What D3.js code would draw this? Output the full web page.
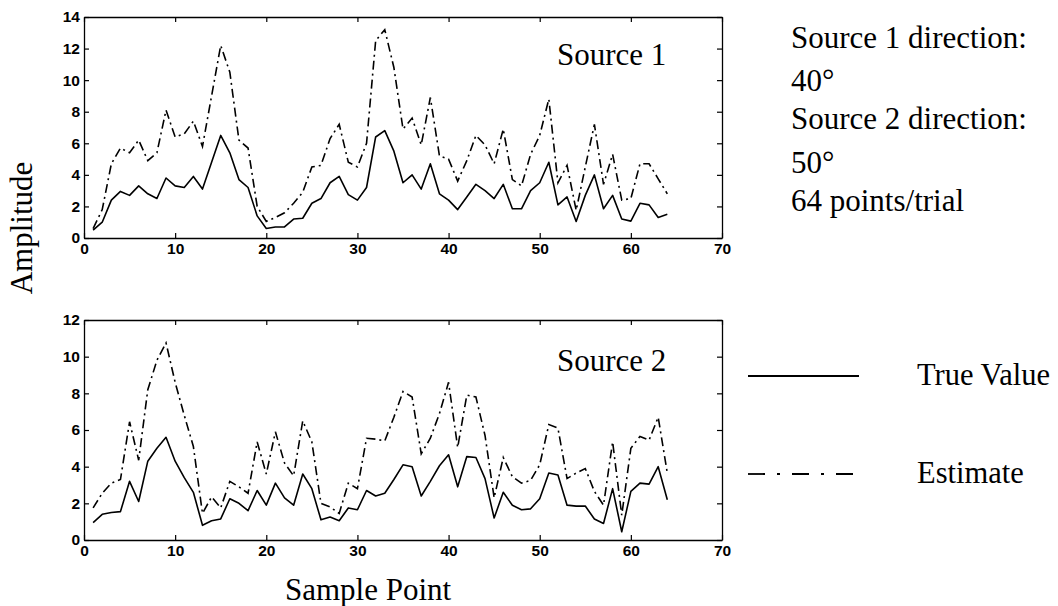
<!DOCTYPE html>
<html>
<head>
<meta charset="utf-8">
<script src="https://cdn.jsdelivr.net/npm/d3@7"></script>
<style>
  html, body { margin: 0; padding: 0; background: #fff; }
  svg { display: block; }
</style>
</head>
<body>
<svg id="chart" width="1058" height="606"></svg>
<script>
// ---- data ----
const samplePoints = d3.range(1, 65);

const source1True = [0.5,1.0,2.4,2.95,2.7,3.3,2.8,2.5,3.8,3.3,3.2,3.9,3.1,4.8,6.5,5.4,3.7,3.2,1.4,0.6,
  0.7,0.7,1.2,1.25,2.2,2.5,3.5,3.9,2.75,2.4,3.2,6.4,6.8,5.5,3.5,4.0,3.1,4.7,2.8,2.4,
  1.8,2.6,3.4,3.0,2.5,3.4,1.85,1.85,3.0,3.5,4.8,2.1,2.6,1.05,2.7,4.0,1.85,2.7,1.2,1.07,
  2.2,2.1,1.3,1.5];
const source1Est = [0.6,1.8,4.7,5.7,5.4,6.2,4.9,5.4,8.1,6.4,6.6,7.4,5.8,9.0,12.2,10.5,6.2,5.7,2.0,1.05,
  1.3,1.6,2.2,2.9,4.5,4.6,6.3,7.2,4.8,4.5,6.0,12.5,13.2,10.8,6.9,7.6,5.9,8.9,5.2,5.0,
  3.6,4.9,6.5,5.9,4.7,6.9,3.7,3.3,5.3,6.5,8.8,3.5,4.6,1.75,4.5,7.2,3.4,5.3,2.4,2.5,
  4.7,4.7,3.75,2.8];

const source2True = [0.95,1.4,1.5,1.55,3.2,2.1,4.3,5.0,5.6,4.3,3.4,2.6,0.8,1.05,1.15,2.25,2.0,1.6,2.7,1.9,
  3.1,2.3,1.9,3.6,2.8,1.1,1.25,1.05,1.75,1.65,2.7,2.4,2.55,3.3,4.1,4.0,2.4,3.2,4.05,4.65,
  2.9,4.55,4.5,3.35,1.2,2.6,1.9,1.65,1.7,2.25,3.65,3.55,1.9,1.85,1.85,1.15,0.9,2.8,0.45,2.65,
  3.1,3.05,4.0,2.2];
const source2Est = [1.75,2.55,3.1,3.3,6.45,4.35,8.2,9.8,10.75,8.6,6.8,5.1,1.45,2.35,1.75,3.2,2.9,2.55,5.35,3.6,
  5.9,4.2,3.5,6.5,5.35,2.0,1.8,1.45,3.1,2.8,5.55,5.5,5.4,6.7,8.1,7.8,4.7,5.55,6.9,8.6,
  5.05,7.9,7.8,5.7,2.3,4.5,3.45,3.1,3.25,4.1,6.3,6.1,3.35,3.65,3.9,2.65,1.9,5.35,1.35,5.0,
  5.65,5.45,6.7,3.65];

const xTicks = [0,10,20,30,40,50,60,70];
const yTicksTop = [0,2,4,6,8,10,12,14];
const yTicksBottom = [0,2,4,6,8,10,12];

const panelTitles = ["Source 1", "Source 2"];
const infoLines = ["Source 1 direction:", "40\u00B0", "Source 2 direction:", "50\u00B0", "64 points/trial"];
const legendLabels = ["True Value", "Estimate"];
const xLabel = "Sample Point";
const yLabel = "Amplitude";

// ---- layout ----
const svg = d3.select("#chart");
const serif = "'Liberation Serif','Times New Roman',serif";
const sans = "'Liberation Sans',Arial,Helvetica,sans-serif";
const dashDot = "9,4,2,4";

const x = d3.scaleLinear().domain([0, 70]).range([84, 722]);

const panels = [
  { top: 17, bottom: 238, ymax: 14, ticks: yTicksTop, tr: source1True, est: source1Est, title: panelTitles[0], titleY: 65 },
  { top: 320, bottom: 540, ymax: 12, ticks: yTicksBottom, tr: source2True, est: source2Est, title: panelTitles[1], titleY: 371 }
];

panels.forEach(p => {
  const y = d3.scaleLinear().domain([0, p.ymax]).range([p.bottom, p.top]);
  const g = svg.append("g");

  const axB = d3.axisBottom(x).tickValues(xTicks).tickSizeInner(-5).tickSizeOuter(0).tickPadding(5);
  const axT = d3.axisTop(x).tickValues(xTicks).tickSizeInner(-5).tickSizeOuter(0).tickFormat("");
  const axL = d3.axisLeft(y).tickValues(p.ticks).tickSizeInner(-5).tickSizeOuter(0).tickPadding(4);
  const axR = d3.axisRight(y).tickValues(p.ticks).tickSizeInner(-5).tickSizeOuter(0).tickFormat("");

  const gb = g.append("g").attr("transform", `translate(0,${p.bottom})`).call(axB);
  const gt = g.append("g").attr("transform", `translate(0,${p.top})`).call(axT);
  const gl = g.append("g").attr("transform", `translate(${x(0)},0)`).call(axL);
  const gr = g.append("g").attr("transform", `translate(${x(70)},0)`).call(axR);
  [gb, gt, gl, gr].forEach(a => {
    a.select(".domain").attr("stroke", "#000").attr("stroke-width", 1.3);
    a.selectAll(".tick line").attr("stroke", "#000").attr("stroke-width", 1.2);
    a.selectAll("text").attr("font-family", sans).attr("font-size", 15.5).attr("font-weight", "bold").attr("fill", "#000");
  });

  const line = d3.line().x((d, i) => x(samplePoints[i])).y(d => y(d));
  g.append("path").datum(p.tr).attr("d", line)
    .attr("fill", "none").attr("stroke", "#000").attr("stroke-width", 1.6).attr("stroke-linejoin", "round");
  g.append("path").datum(p.est).attr("d", line)
    .attr("fill", "none").attr("stroke", "#000").attr("stroke-width", 1.6).attr("stroke-dasharray", dashDot);

  g.append("text").attr("x", 557).attr("y", p.titleY).text(p.title)
    .attr("font-family", serif).attr("font-size", 31).attr("fill", "#000");
});

// axis labels
svg.append("text").attr("x", 285).attr("y", 600).text(xLabel)
  .attr("font-family", serif).attr("font-size", 31).attr("fill", "#000");
svg.append("text").attr("transform", "translate(32,228) rotate(-90)").attr("text-anchor", "middle").text(yLabel)
  .attr("font-family", serif).attr("font-size", 31).attr("fill", "#000");

// info text
const infoY = [48, 91, 129, 173, 211];
infoLines.forEach((t, i) => {
  svg.append("text").attr("x", 791).attr("y", infoY[i]).text(t)
    .attr("font-family", serif).attr("font-size", 31).attr("fill", "#000");
});

// legend
const legY = [376, 474];
const legDash = [null, "17,12,3,12"];
legendLabels.forEach((t, i) => {
  const ln = svg.append("line").attr("x1", 748).attr("x2", 859).attr("y1", legY[i]).attr("y2", legY[i])
    .attr("stroke", "#000").attr("stroke-width", 1.8);
  if (legDash[i]) ln.attr("stroke-dasharray", legDash[i]);
  svg.append("text").attr("x", 917).attr("y", legY[i] + 9).text(t)
    .attr("font-family", serif).attr("font-size", 30.5).attr("fill", "#000");
});
</script>
</body>
</html>
